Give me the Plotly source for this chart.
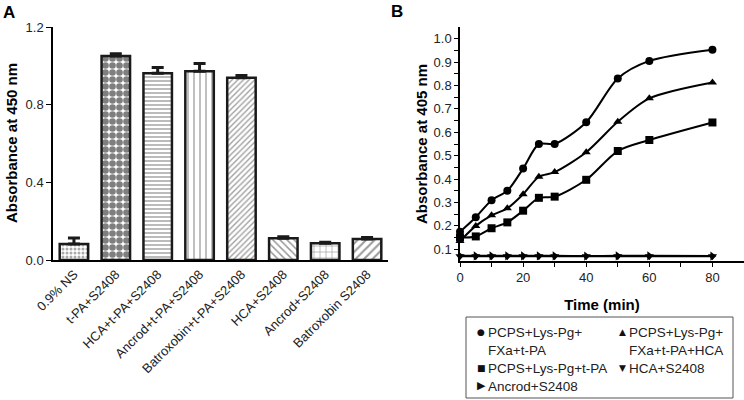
import plotly.graph_objects as go

# ---- Panel A data ----
categories = ["0.9% NS", "t-PA+S2408", "HCA+t-PA+S2408", "Ancrod+t-PA+S2408",
              "Batroxobin+t-PA+S2408", "HCA+S2408", "Ancrod+S2408", "Batroxobin S2408"]
bar_values = [0.083, 1.05, 0.962, 0.972, 0.938, 0.112, 0.086, 0.108]
bar_errors = [0.030, 0.012, 0.030, 0.040, 0.012, 0.008, 0.006, 0.008]

# ---- Panel B data ----
time_min = [0, 5, 10, 15, 20, 25, 30, 40, 50, 60, 80]
pcps_fxa_tpa = [0.175, 0.237, 0.31, 0.35, 0.445, 0.55, 0.55, 0.643, 0.83, 0.905, 0.953]
pcps_fxa_tpa_hca = [0.135, 0.2, 0.245, 0.275, 0.335, 0.41, 0.43, 0.515, 0.645, 0.745, 0.813]
pcps_tpa = [0.15, 0.155, 0.19, 0.215, 0.265, 0.32, 0.325, 0.397, 0.52, 0.567, 0.642]
hca_s2408 = [0.07, 0.07, 0.07, 0.07, 0.07, 0.07, 0.07, 0.07, 0.07, 0.07, 0.07]
ancrod_s2408 = [0.072, 0.072, 0.072, 0.072, 0.072, 0.072, 0.072, 0.071, 0.072, 0.072, 0.071]
series_names = ["PCPS+Lys-Pg+<br>FXa+t-PA", "PCPS+Lys-Pg+<br>FXa+t-PA+HCA",
                "PCPS+Lys-Pg+t-PA", "HCA+S2408", "Ancrod+S2408"]
series_symbols = ["circle", "triangle-up", "square", "triangle-down", "triangle-right"]
legend_glyphs = ["●", "▲", "■", "▼", "▶"]
legend_glyph_sizes = [9, 9, 9, 9, 11]

W, H = 744, 400
def px(x): return x / W
def py(y): return 1 - y / H

FONT = "Liberation Sans, Arial, sans-serif"

patterns = [
    dict(shape=".", size=4, solidity=0.45, fgcolor="#555555"),
    dict(shape=".", size=7, solidity=0.7, fgcolor="black"),
    dict(shape="-", size=4, solidity=0.4, fgcolor="#555555"),
    dict(shape="|", size=6, solidity=0.25, fgcolor="#555555"),
    dict(shape="/", size=4, solidity=0.35, fgcolor="#444444"),
    dict(shape="\\", size=5, solidity=0.3, fgcolor="#333333"),
    dict(shape="+", size=6, solidity=0.2, fgcolor="#333333"),
    dict(shape="/", size=6, solidity=0.35, fgcolor="#333333"),
]

fig = go.Figure()

for i, (c, v, e) in enumerate(zip(categories, bar_values, bar_errors)):
    fig.add_trace(go.Bar(
        x=[c], y=[v], xaxis="x", yaxis="y", width=0.68, showlegend=False,
        marker=dict(color="white", line=dict(color="#1a1a1a", width=2.5),
                    pattern=dict(bgcolor="white", **patterns[i])),
        error_y=dict(type="data", array=[e], arrayminus=[0], symmetric=False,
                     color="#1a1a1a", thickness=3, width=6),
    ))

series_values = [pcps_fxa_tpa, pcps_fxa_tpa_hca, pcps_tpa, hca_s2408, ancrod_s2408]
for name, ys, sym in zip(series_names, series_values, series_symbols):
    fig.add_trace(go.Scatter(
        x=time_min, y=ys, xaxis="x2", yaxis="y2", mode="lines+markers", name=name,
        line=dict(color="black", width=2, shape="spline", smoothing=0.8),
        marker=dict(symbol=sym, size=8, color="black"),
        showlegend=False, cliponaxis=False,
    ))

axis_common = dict(showline=True, linecolor="black", linewidth=1.5,
                   tickcolor="black", showgrid=False, zeroline=False, automargin=False,
                   tickfont=dict(family=FONT, size=13, color="#222"))

# manual legend (box + text entries), placed in pixel layout positions
legend_slots = [(481, 332), (622, 332), (481, 368), (622, 368), (481, 386)]
annotations = [
    dict(text="<b>A</b>", x=px(1), y=py(1), xref="paper", yref="paper",
         xanchor="left", yanchor="top", showarrow=False, font=dict(size=17, family=FONT)),
    dict(text="<b>B</b>", x=px(389), y=py(0), xref="paper", yref="paper",
         xanchor="left", yanchor="top", showarrow=False, font=dict(size=17, family=FONT)),
    dict(text="<b>Absorbance at 450 nm</b>", x=px(12), y=py(143), xref="paper", yref="paper",
         textangle=-90, xanchor="center", yanchor="middle", showarrow=False,
         font=dict(size=15, family=FONT)),
    dict(text="<b>Absorbance at 405 nm</b>", x=px(421), y=py(144), xref="paper", yref="paper",
         textangle=-90, xanchor="center", yanchor="middle", showarrow=False,
         font=dict(size=15, family=FONT)),
]
for (lx, ly), name, g, gs in zip(legend_slots, series_names, legend_glyphs, legend_glyph_sizes):
    annotations.append(dict(text=g, x=px(lx), y=py(ly - 0.5),
                            xref="paper", yref="paper", xanchor="center", yanchor="middle",
                            showarrow=False, font=dict(size=gs, family="DejaVu Sans", color="#111")))
    annotations.append(dict(text=name, x=px(lx + 5), y=py(ly - 9.5), xref="paper", yref="paper",
                            xanchor="left", yanchor="top", align="left", showarrow=False,
                            font=dict(size=13.5, family=FONT, color="#222")))

fig.update_layout(
    width=W, height=H, margin=dict(l=0, r=0, t=0, b=0),
    plot_bgcolor="white", paper_bgcolor="white",
    font=dict(family=FONT, color="black"),
    showlegend=False,
    xaxis=dict(domain=[px(53), px(388)], anchor="y", tickangle=-45,
               categoryorder="array", categoryarray=categories, ticks="",
               **axis_common),
    yaxis=dict(domain=[py(260), py(27)], anchor="x", range=[0, 1.2],
               tickvals=[0, 0.4, 0.8, 1.2], tickformat=".1f", ticks="outside", ticklen=5,
               **axis_common),
    xaxis2=dict(domain=[px(460), 1.0], anchor="y2", range=[0, 90],
                tickvals=[0, 20, 40, 60, 80], ticks="outside", ticklen=4,
                minor=dict(dtick=10, ticks="outside", ticklen=4, tickcolor="black"),
                title=dict(text="<b>Time (min)</b>", font=dict(size=15, family=FONT)),
                **axis_common),
    yaxis2=dict(domain=[py(261), py(27)], anchor="x2", range=[0.05, 1.05],
                tickvals=[0.1, 0.2, 0.3, 0.4, 0.5, 0.6, 0.7, 0.8, 0.9, 1.0], tickformat=".1f",
                ticks="outside", ticklen=4,
                minor=dict(tickvals=[0.15, 0.25, 0.35, 0.45, 0.55, 0.65, 0.75, 0.85, 0.95],
                           ticks="outside", ticklen=4, tickcolor="black"),
                **axis_common),
    shapes=[dict(type="rect", xref="paper", yref="paper", x0=px(466), x1=px(733),
                 y0=py(398), y1=py(317), line=dict(color="#555", width=1))],
    annotations=annotations,
)

fig.write_html("out.html", config={"displayModeBar": False},
               post_script="document.body.style.margin='0';document.body.style.overflow='hidden';")
